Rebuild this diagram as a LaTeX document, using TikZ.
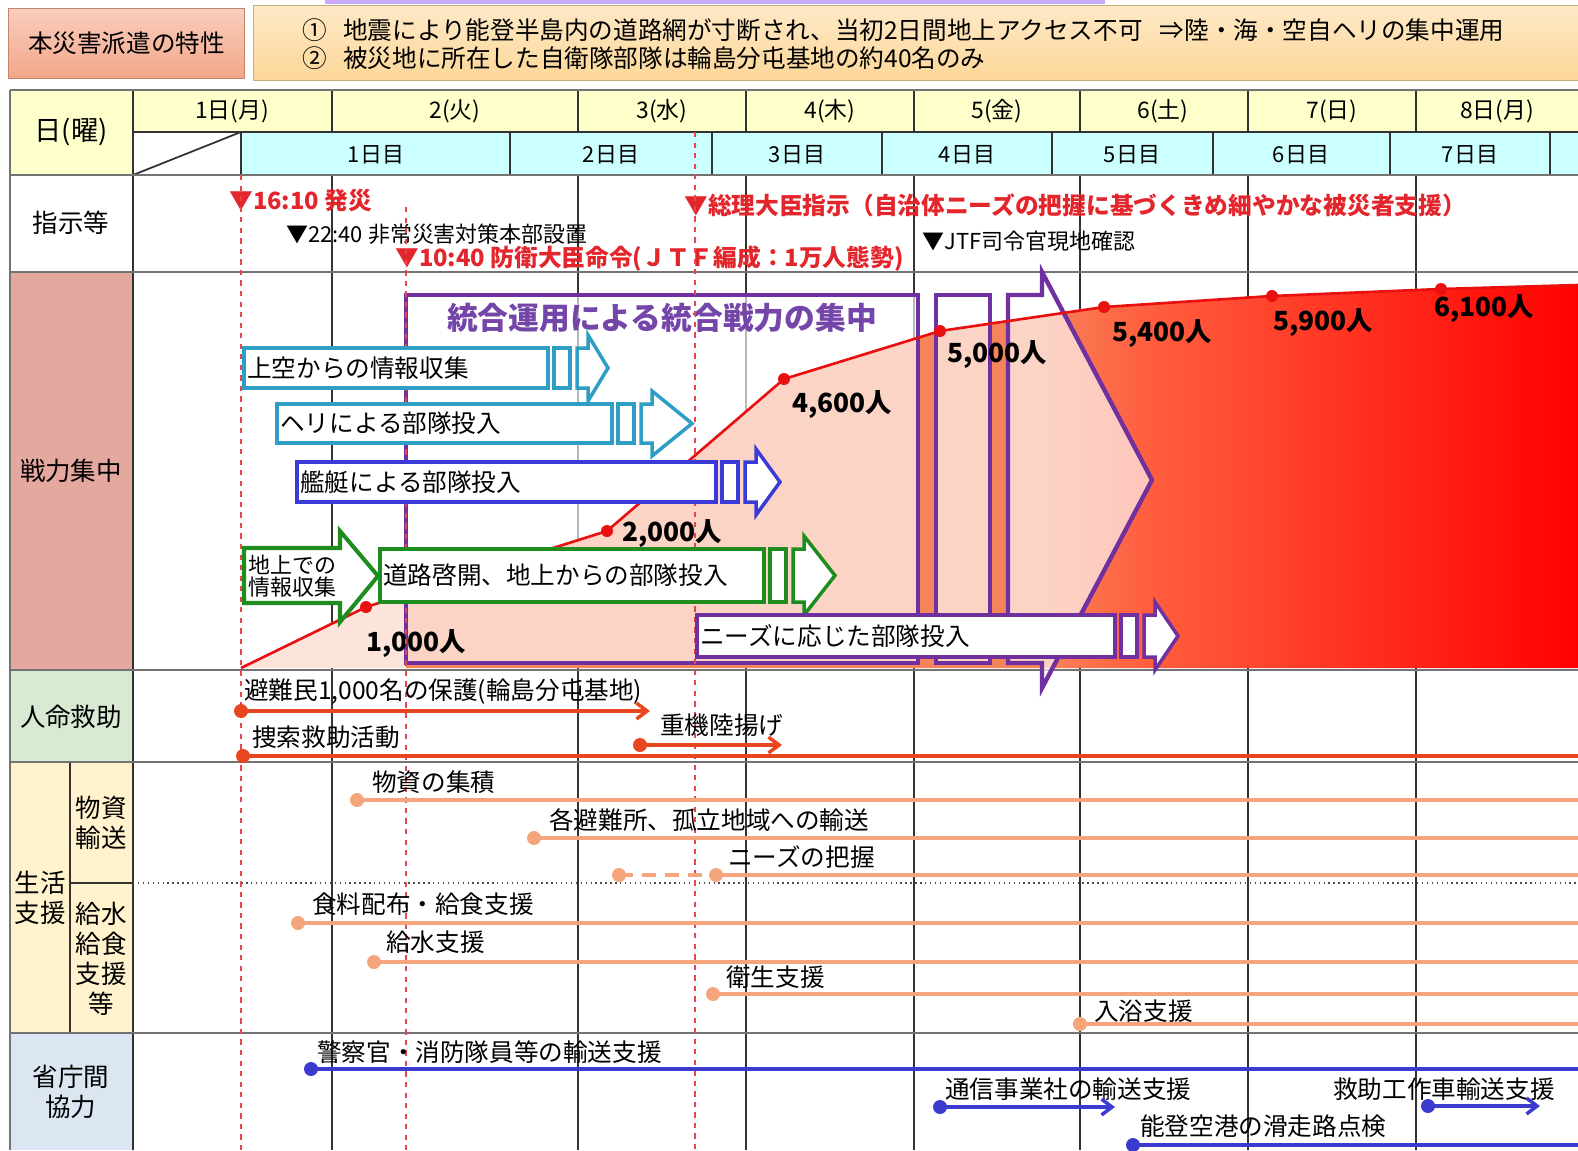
\documentclass[tikz,border=0pt]{standalone}
\usepackage{fontspec}
\setmainfont{Noto Sans CJK JP}
\usetikzlibrary{arrows.meta, positioning, calc, fit}

\definecolor{hdryellow}{HTML}{FFFFCC}
\definecolor{daycyan}{HTML}{CCFFFF}
\definecolor{forcepink}{HTML}{E5A89F}
\definecolor{rescuegreen}{HTML}{D9EAD3}
\definecolor{lifebeige}{HTML}{FFF2CC}
\definecolor{coopblue}{HTML}{DCE6F2}
\definecolor{alertred}{HTML}{E3262C}
\definecolor{jtfpurple}{HTML}{7030A0}
\definecolor{titlepurple}{HTML}{7446AA}
\definecolor{aircyan}{HTML}{2E9EC4}
\definecolor{shipblue}{HTML}{3A3AD8}
\definecolor{groundgreen}{HTML}{1E8C1E}
\definecolor{rescuered}{HTML}{E8461E}
\definecolor{lifeorange}{HTML}{F4A57C}
\definecolor{coopline}{HTML}{3B3BD0}
\definecolor{curvered}{HTML}{E81010}
\definecolor{peach}{HTML}{FCE4DA}
\definecolor{midorange}{HTML}{F5845A}
\definecolor{deeporange}{HTML}{FF6040}
\definecolor{noticesalmon}{HTML}{F3A688}
\definecolor{noticeamber}{HTML}{FCD798}
\definecolor{topstrip}{HTML}{C9A9F5}

% boxed unit arrow: name, colour, left, box end, top, bottom, tip, text
\newcommand{\unitarrow}[8]{%
  \node[fbox, draw=#2, fit={(#3,#5) (#4,#6)}] (#1) {};
  \node[ftext] (#1-t) at ([xshift=0.1cm]#1.west) {#8};
  \draw[fbar, draw=#2] (#4+6,#5) rectangle (#4+22,#6);
  \draw[fbar, draw=#2] (#4+29,#5) -- (#4+40,#5) -- (#4+40,#5-13) -- (#7,{(#5+#6)/2})
    -- (#4+40,#6+13) -- (#4+40,#6) -- (#4+29,#6) -- cycle;
}

\begin{document}
\begin{tikzpicture}[x=0.02cm, y=-0.02cm,
  every node/.style={inner sep=0pt},
  hdr/.style={font=\fontsize{13}{15}\selectfont},
  rowlbl/.style={font=\fontsize{14.5}{17}\selectfont, align=center},
  evred/.style={font=\bfseries\fontsize{13.5}{16}\selectfont, text=alertred, anchor=west},
  evblk/.style={font=\fontsize{12.5}{15}\selectfont, anchor=west},
  num/.style={font=\bfseries\fontsize{15}{17}\selectfont, anchor=west},
  tl/.style={font=\fontsize{14}{16}\selectfont, anchor=west},
  ftext/.style={font=\fontsize{14}{16}\selectfont, anchor=west},
  gridl/.style={black!80, line width=1pt},
  rowsep/.style={black!55, line width=1.6pt},
  redmark/.style={alertred!85, dashed, line width=0.6pt},
  fbox/.style={draw, fill=white, line width=2.3pt},
  fbar/.style={fill=white, line width=2pt},
  jtf/.style={draw=jtfpurple, line width=2.5pt, fill=white, fill opacity=0.65},
  rescue/.style={rescuered, line width=2pt},
  life/.style={lifeorange, line width=2pt},
  coop/.style={coopline, line width=2pt},
  barb/.style={-{Straight Barb[length=6pt, width=9pt]}},
  notice/.style={draw=#1!80!black, line width=0.5pt, top color=#1!55, bottom color=#1,
    font=\fontsize{14}{16}\selectfont}
]
\useasboundingbox (0,0) rectangle (1578,1150);

% header boxes
\fill[topstrip] (325,0) rectangle (1105,4);
\node[notice=noticesalmon, minimum width=4.72cm, minimum height=1.4cm, anchor=north west] (trait) at (8,8) {本災害派遣の特性};
\node[notice=noticeamber, minimum width=26.6cm, minimum height=1.5cm, anchor=north west] (traitlist) at (253,5) {};
\node[tl] (mark1) at (302,30) {①};
\node[tl] (mark2) at (302,58) {②};
\node[tl] (point1) at (343,30) {地震により能登半島内の道路網が寸断され、当初2日間地上アクセス不可\hspace{0.7em}⇒陸・海・空自ヘリの集中運用};
\node[tl] (point2) at (343,58) {被災地に所在した自衛隊部隊は輪島分屯基地の約40名のみ};

% cell fills
\fill[hdryellow] (10,90) rectangle (1578,132);
\fill[hdryellow] (10,132) rectangle (133,175);
\fill[daycyan] (241,132) rectangle (1578,175);
\fill[forcepink] (10,272) rectangle (133,670);
\fill[rescuegreen] (10,670) rectangle (133,762);
\fill[lifebeige] (10,762) rectangle (133,1033);
\fill[coopblue] (10,1033) rectangle (133,1150);

% grid
\foreach \x in {332,578,746,914,1080,1248,1416}
  \draw[gridl] (\x,90) -- (\x,132) (\x,175) -- (\x,1150);
\foreach \x in {241,510,712,882,1052,1213,1390,1550}
  \draw[gridl] (\x,132) -- (\x,175);
\draw[gridl] (133,132) -- (1578,132);
\draw[gridl] (133,175) -- (241,132);
\draw[gridl] (133,90) -- (133,1150);
\draw[gridl] (70,762) -- (70,1033);
\draw[gridl] (70,883) -- (133,883);
\draw[black!70, dotted, line width=0.8pt] (133,883) -- (1578,883);
\foreach \y in {90,175,272,670,762,1033}
  \draw[rowsep] (10,\y) -- (1578,\y);
\draw[rowsep] (10,90) -- (10,1150);

% dates
\foreach \x/\d [count=\i] in {232/1日(月), 455/2(火), 662/3(水), 830/4(木), 997/5(金), 1163/6(土), 1332/7(日), 1497/8日(月)}
  \node[hdr] (date\i) at (\x,111) {\d};
\foreach \x/\d [count=\i] in {376/1日目, 611/2日目, 797/3日目, 967/4日目, 1132/5日目, 1301/6日目, 1470/7日目}
  \node[hdr, font=\fontsize{12.5}{15}\selectfont] (day\i) at (\x,155) {\d};

% row labels
\node[rowlbl, font=\fontsize{15.5}{18}\selectfont] (rday) at (71,132) {日(曜)};
\node[rowlbl] (rorder) at (71,223) {指示等};
\node[rowlbl] (rforce) at (71,471) {戦力集中};
\node[rowlbl] (rrescue) at (71,717) {人命救助};
\node[rowlbl] (rlife) at (40,898) {生活\\支援};
\node[rowlbl] (rgoods) at (101,823) {物資\\輸送};
\node[rowlbl] (rwater) at (101,959) {給水\\給食\\支援\\等};
\node[rowlbl] (rcoop) at (71,1092) {省庁間\\協力};

% orders
\node[evred] (quake) at (229,201) {▼16:10 発災};
\node[evblk] (hq) at (286,234) {▼22:40 非常災害対策本部設置};
\node[evred] (minister) at (395,259) {▼10:40 防衛大臣命令(ＪＴＦ編成：1万人態勢)};
\node[evred] (premier) at (684,205) {▼総理大臣指示（自治体ニーズの把握に基づくきめ細やかな被災者支援）};
\node[evblk] (jtfcheck) at (922,241) {▼JTF司令官現地確認};

% force build-up
\coordinate (m0) at (241,668);
\coordinate (m1) at (366,607);
\coordinate (m2) at (607,531);
\coordinate (m3) at (784,379);
\coordinate (m4) at (940,331);
\coordinate (m5) at (1104,307);
\coordinate (m6) at (1272,296);
\coordinate (m7) at (1441,289);
\coordinate (m8) at (1578,285);
\begin{scope}
  \clip (m0) -- (m1) -- (m2) -- (m3) -- (m4) -- (m5) -- (m6) -- (m7) -- (m8) -- (1578,668) -- cycle;
  \fill[peach] (241,270) rectangle (406,670);
  \fill[midorange] (406,270) rectangle (1040,670);
  \shade[left color=midorange, right color=deeporange] (1040,270) rectangle (1140,670);
  \shade[left color=deeporange, right color=red] (1140,270) rectangle (1578,670);
\end{scope}

\node[jtf, fit={(406,295) (918,663)}] (jtfbox) {};
\node[font=\bfseries\fontsize{17.5}{20}\selectfont, text=titlepurple, below=0.2cm of jtfbox.north] (jtftitle) {統合運用による統合戦力の集中};
\node[jtf, fit={(936,295) (990,663)}] (jtfbar) {};
\draw[jtf] (1008,295) -- (1042,295) -- (1042,272) -- (1152,480) -- (1042,688) -- (1042,663) -- (1008,663) -- cycle;

\draw[curvered, line width=1.5pt] (m0) -- (m1) -- (m2) -- (m3) -- (m4) -- (m5) -- (m6) -- (m7) -- (m8);
\foreach \i in {1,...,7}
  \fill[curvered] (m\i) circle (6);
\node[num] (n1) at (366,643) {1,000人};
\node[num] (n2) at (622,533) {2,000人};
\node[num] (n3) at (792,404) {4,600人};
\node[num] (n4) at (947,354) {5,000人};
\node[num] (n5) at (1112,333) {5,400人};
\node[num] (n6) at (1273,322) {5,900人};
\node[num] (n7) at (1434,308) {6,100人};

% time marks
\draw[redmark] (241,175) -- (241,1150);
\draw[redmark] (406,207) -- (406,1150);
\draw[redmark] (695,132) -- (695,1150);

% units
\unitarrow{airinfo}{aircyan}{244}{548}{348}{388}{608}{上空からの情報収集}
\unitarrow{heli}{aircyan}{277}{612}{404}{443}{692}{ヘリによる部隊投入}
\unitarrow{ship}{shipblue}{297}{716}{462}{502}{780}{艦艇による部隊投入}
\draw[fbox, draw=groundgreen] (244,548) -- (340,548) -- (340,531) -- (378,576) -- (340,622) -- (340,603) -- (244,603) -- cycle;
\node[font=\fontsize{12.5}{12.5}\selectfont, align=left, anchor=west] (groundinfo) at (248,576) {地上での\\情報収集};
\unitarrow{road}{groundgreen}{380}{764}{549}{602}{835}{道路啓開、地上からの部隊投入}
\unitarrow{needs}{jtfpurple}{697}{1115}{615}{657}{1178}{ニーズに応じた部隊投入}

% rescue
\node[tl] (evac) at (244,692) {避難民1,000名の保護(輪島分屯基地)};
\coordinate (evac-s) at (241,711);
\coordinate (evac-e) at (650,711);
\draw[rescue, barb] (evac-s) -- (evac-e);
\fill[rescuered] (evac-s) circle (7);
\node[tl] (search) at (252,737) {捜索救助活動};
\coordinate (search-s) at (243,756);
\coordinate (search-e) at (1578,756);
\draw[rescue] (search-s) -- (search-e);
\fill[rescuered] (search-s) circle (7);
\node[tl] (heavy) at (660,725) {重機陸揚げ};
\coordinate (heavy-s) at (640,745);
\coordinate (heavy-e) at (782,745);
\draw[rescue, barb] (heavy-s) -- (heavy-e);
\fill[rescuered] (heavy-s) circle (7);

% life support
\foreach \nm/\xs/\yl/\xt/\yt/\lbl in {stock/357/800/372/782/物資の集積,
    deliver/534/838/549/820/各避難所、孤立地域への輸送,
    food/298/923/312/904/食料配布・給食支援,
    water/374/962/386/942/給水支援,
    hygiene/713/994/726/977/衛生支援,
    bath/1080/1024/1094/1011/入浴支援}
{
  \node[tl] (\nm) at (\xt,\yt) {\lbl};
  \coordinate (\nm-s) at (\xs,\yl);
  \coordinate (\nm-e) at (1578,\yl);
  \draw[life] (\nm-s) -- (\nm-e);
  \fill[lifeorange] (\nm-s) circle (7);
}
\node[tl] (needgrasp) at (728,857) {ニーズの把握};
\coordinate (need-a) at (619,875);
\coordinate (need-b) at (716,875);
\coordinate (need-e) at (1578,875);
\draw[life, dash pattern=on 8pt off 5pt] (need-a) -- (need-b);
\draw[life] (need-b) -- (need-e);
\fill[lifeorange] (need-a) circle (7) (need-b) circle (7);

% inter-ministry
\node[tl] (police) at (317,1052) {警察官・消防隊員等の輸送支援};
\coordinate (police-s) at (311,1069);
\coordinate (police-e) at (1578,1069);
\draw[coop] (police-s) -- (police-e);
\fill[coopline] (police-s) circle (7);
\node[tl] (telecom) at (945,1089) {通信事業社の輸送支援};
\coordinate (telecom-s) at (940,1107);
\coordinate (telecom-e) at (1115,1107);
\draw[coop, barb] (telecom-s) -- (telecom-e);
\fill[coopline] (telecom-s) circle (7);
\node[tl] (rescuecar) at (1333,1089) {救助工作車輸送支援};
\coordinate (rescuecar-s) at (1428,1106);
\coordinate (rescuecar-e) at (1540,1106);
\draw[coop, barb] (rescuecar-s) -- (rescuecar-e);
\fill[coopline] (rescuecar-s) circle (7);
\node[tl] (airport) at (1140,1126) {能登空港の滑走路点検};
\coordinate (airport-s) at (1133,1145);
\coordinate (airport-e) at (1578,1145);
\draw[coop] (airport-s) -- (airport-e);
\fill[coopline] (airport-s) circle (7);
\end{tikzpicture}
\end{document}
